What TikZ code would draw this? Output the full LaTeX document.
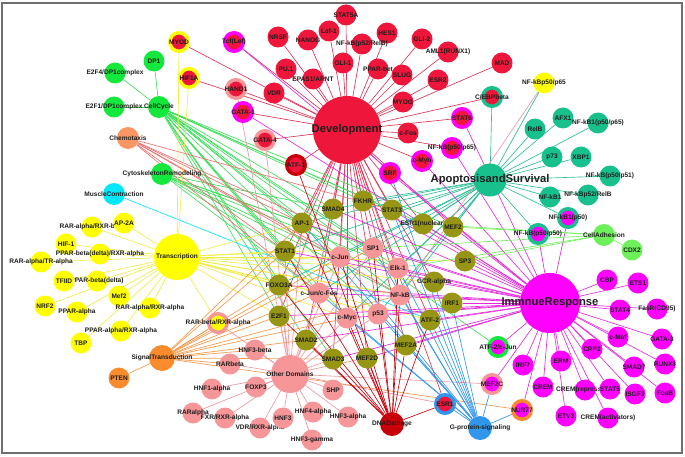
\documentclass[tikz,border=0pt]{standalone}
\usepackage{fontspec}
\setmainfont{Liberation Sans}
\usetikzlibrary{backgrounds}

\definecolor{devred}{RGB}{238,22,58}
\definecolor{devline}{RGB}{222,50,85}
\definecolor{cyclegreen}{RGB}{20,232,60}
\definecolor{cycleline}{RGB}{60,222,90}
\definecolor{tyellow}{RGB}{255,255,0}
\definecolor{tline}{RGB}{240,235,70}
\definecolor{apoteal}{RGB}{24,192,142}
\definecolor{apoline}{RGB}{40,190,150}
\definecolor{immmag}{RGB}{255,0,255}
\definecolor{immline}{RGB}{230,40,220}
\definecolor{hubolive}{RGB}{150,150,20}
\definecolor{otherpink}{RGB}{246,150,152}
\definecolor{otherline}{RGB}{240,150,160}
\definecolor{sigorange}{RGB}{250,140,45}
\definecolor{sigline}{RGB}{245,150,70}
\definecolor{chemocol}{RGB}{250,150,100}
\definecolor{chemoline}{RGB}{235,110,110}
\definecolor{musclecyan}{RGB}{0,232,250}
\definecolor{adhgreen}{RGB}{110,240,90}
\definecolor{dnared}{RGB}{200,0,10}
\definecolor{gblue}{RGB}{50,150,235}
\definecolor{labcol}{RGB}{30,30,30}
\definecolor{framegray}{RGB}{110,110,110}

\begin{document}
\begin{tikzpicture}[x=0.03cm,y=-0.03cm,
    every label/.style={font=\fontsize{5.6}{6}\selectfont\bfseries,text=labcol,inner sep=0pt},
    hublabel/.style={font=\fontsize{9.6}{10}\selectfont\bfseries,text=labcol,inner sep=0pt},
    gene/.style={circle,inner sep=0pt,minimum size=0.63cm,fill=#1},
    ringed/.style 2 args={circle,inner sep=0pt,minimum size=0.555cm,fill=#2,draw=#1,line width=0.105cm},
    hub/.style 2 args={circle,inner sep=0pt,minimum size=#2*0.06cm,fill=#1},
    link/.style={draw=#1,line width=0.55pt}]

    \useasboundingbox (0,0) rectangle (685,456);
    \draw[framegray,line width=1pt] (2,3) rectangle (682,453);

    % Development
    \node[hub={devred}{34},label={[hublabel]center:Development}] (development) at (347,130) {};
    \node[gene=devred,label={center:STAT5A}] (stata) at (346,15) {};
    \node[gene=devred,label={center:NRSF}] (nrsf) at (278,37) {};
    \node[gene=devred,label={center:NANOG}] (nanog) at (308,40) {};
    \node[gene=devred,label={center:Lef-1}] (lef) at (329,31) {};
    \node[gene=devred,label={center:HES1}] (hes) at (387,33) {};
    \node[gene=devred,label={center:NF-kB(p52/RelB)}] (nfkbrelb) at (362,44) {};
    \node[gene=devred,label={center:GLI-2}] (glitwo) at (422,39) {};
    \node[gene=devred,label={center:AML1(RUNX1)}] (aml) at (448,52) {};
    \node[gene=devred,label={center:MAD}] (mad) at (502,63) {};
    \node[gene=devred,label={center:PU.1}] (pu) at (286,69) {};
    \node[gene=devred,label={center:GLI-1}] (glione) at (343,63) {};
    \node[gene=devred,label={center:PPAR-bet}] (ppbet) at (378,69) {};
    \node[gene=devred,label={center:EPAS1/ARNT}] (epas) at (313,79) {};
    \node[gene=devred,label={center:SLUG}] (slug) at (402,75) {};
    \node[gene=devred,label={center:ESR2}] (esrtwo) at (438,80) {};
    \node[gene=devred,label={center:VDR}] (vdr) at (274,93) {};
    \node[gene=devred,label={center:MYOG}] (myog) at (403,102) {};
    \node[gene=devred,label={center:c-Fos}] (cfos) at (408,133) {};
    \node[ringed={tyellow}{devred},label={center:MYOD}] (myod) at (179,42) {};
    \node[ringed={tyellow}{devred},label={center:HIF1A}] (hifa) at (189,78) {};
    \node[ringed={immmag}{devred},label={center:Tcf(Lef)}] (tcf) at (234,42) {};
    \node[ringed={otherpink}{devred},label={center:HAND1}] (hand) at (236,89) {};
    \node[ringed={immmag}{devred},label={center:GATA-1}] (gataone) at (243,112) {};
    \node[ringed={otherpink}{devred},label={center:GATA-4}] (gatafour) at (265,140) {};
    \node[ringed={dnared}{devred},label={center:ATF-1}] (atfone) at (296,165) {};
    \node[ringed={apoteal}{devred},label={center:C/EBPbeta}] (cebp) at (492,97) {};
    \node[ringed={immmag}{devred},label={center:STAT6}] (statsix) at (462,118) {};
    \node[ringed={immmag}{devred},label={center:NF-kB(p50/p65)}] (nfkbsixfive) at (452,148) {};
    \node[ringed={immmag}{devred},label={center:c-Myb}] (cmyb) at (422,161) {};
    \node[ringed={immmag}{devred},label={center:SRF}] (srf) at (390,173) {};

    % CellCycle and other small groups
    \node[gene=cyclegreen,label={center:DP1}] (dpone) at (154,61) {};
    \node[gene=cyclegreen,label={center:E2F4/DP1complex}] (efour) at (115,73) {};
    \node[gene=cyclegreen,label={center:E2F1/DP1complex}] (efone) at (114,107) {};
    \node[hub={cyclegreen}{11},label={center:CellCycle}] (cellcycle) at (159,107) {};
    \node[hub={chemocol}{11},label={center:Chemotaxis}] (chemo) at (128,138) {};
    \node[hub={cyclegreen}{11},label={center:CytoskeletonRemodeling}] (cyto) at (162,174) {};
    \node[hub={musclecyan}{11},label={center:MuscleContraction}] (muscle) at (114,194) {};

    % Transcription
    \node[hub={tyellow}{23},label={center:Transcription}] (transcription) at (177,257) {};
    \node[gene=tyellow,label={center:RAR-alpha/RXR-beta}] (rarrxrb) at (92,227) {};
    \node[gene=tyellow,label={center:AP-2A}] (aptwo) at (124,223) {};
    \node[gene=tyellow,label={center:HIF-1}] (hifone) at (66,244) {};
    \node[gene=tyellow,label={center:PPAR-beta(delta)/RXR-alpha}] (ppbdrxr) at (100,254) {};
    \node[gene=tyellow,label={center:RAR-alpha/TR-alpha}] (rartr) at (41,262) {};
    \node[gene=tyellow,label={center:PPAR-beta(delta)}] (ppbd) at (97,281) {};
    \node[gene=tyellow,label={center:TFIID}] (tfiid) at (64,281) {};
    \node[gene=tyellow,label={center:Mef2}] (meftwo) at (119,296) {};
    \node[gene=tyellow,label={center:NRF2}] (nrf) at (45,306) {};
    \node[gene=tyellow,label={center:PPAR-alpha}] (ppa) at (77,312) {};
    \node[gene=tyellow,label={center:RAR-alpha/RXR-alpha}] (rarrxra) at (150,308) {};
    \node[gene=tyellow,label={center:PPAR-alpha/RXR-alpha}] (pparxr) at (121,331) {};
    \node[gene=tyellow,label={center:TBP}] (tbp) at (81,343) {};
    \node[gene=tyellow,label={center:NF-kBp50/p65}] (nfkbyel) at (544,83) {};

    % SignalTransduction
    \node[hub={sigorange}{13},label={center:SignalTransduction}] (signal) at (162,358) {};
    \node[gene=sigorange,label={center:PTEN}] (pten) at (119,378) {};

    % Other Domains
    \node[hub={otherpink}{19},label={center:Other Domains}] (other) at (290,374) {};
    \node[ringed={otherpink}{tyellow},label={center:RAR-beta/RXR-alpha}] (rarbrxr) at (218,323) {};
    \node[gene=otherpink,label={center:HNF3-beta}] (hnfthreeb) at (255,350) {};
    \node[gene=otherpink,label={center:RARbeta}] (rarbeta) at (230,364) {};
    \node[gene=otherpink,label={center:HNF1-alpha}] (hnfonea) at (212,389) {};
    \node[gene=otherpink,label={center:FOXP3}] (foxp) at (256,387) {};
    \node[gene=otherpink,label={center:RARalpha}] (raralpha) at (193,413) {};
    \node[gene=otherpink,label={center:FXR/RXR-alpha}] (fxr) at (225,418) {};
    \node[gene=otherpink,label={center:VDR/RXR-alpha}] (vdrrxr) at (260,428) {};
    \node[gene=otherpink,label={center:HNF3}] (hnfthree) at (283,418) {};
    \node[gene=otherpink,label={center:HNF4-alpha}] (hnffour) at (313,412) {};
    \node[gene=otherpink,label={center:HNF3-alpha}] (hnfthreea) at (348,417) {};
    \node[gene=otherpink,label={center:HNF3-gamma}] (hnfthreeg) at (312,440) {};
    \node[gene=otherpink,label={center:SHP}] (shp) at (333,390) {};

    % shared genes in the middle
    \node[gene=hubolive,label={center:SMAD4}] (smadfour) at (333,209) {};
    \node[gene=hubolive,label={center:FKHR}] (fkhr) at (363,201) {};
    \node[gene=hubolive,label={center:STAT3}] (statthree) at (392,210) {};
    \node[gene=hubolive,label={center:AP-1}] (apone) at (302,223) {};
    \node[gene=hubolive,label={center:ESR1(nuclear)}] (esrnuc) at (423,224) {};
    \node[gene=hubolive,label={center:MEF2}] (meftwob) at (453,227) {};
    \node[gene=hubolive,label={center:STAT1}] (statone) at (285,251) {};
    \node[gene=hubolive,label={center:SP3}] (spthree) at (465,261) {};
    \node[gene=hubolive,label={center:FOXO3A}] (foxo) at (279,285) {};
    \node[gene=hubolive,label={center:GCR-alpha}] (gcr) at (434,282) {};
    \node[gene=hubolive,label={center:IRF1}] (irf) at (452,303) {};
    \node[gene=hubolive,label={center:E2F1}] (eftwo) at (279,316) {};
    \node[gene=hubolive,label={center:ATF-2}] (atftwo) at (430,320) {};
    \node[gene=hubolive,label={center:SMAD2}] (smadtwo) at (306,340) {};
    \node[gene=hubolive,label={center:MEF2A}] (meftwoa) at (406,345) {};
    \node[gene=hubolive,label={center:SMAD3}] (smadthree) at (333,359) {};
    \node[gene=hubolive,label={center:MEF2D}] (meftwod) at (367,358) {};
    \node[gene=otherpink,label={center:SP1}] (spone) at (373,248) {};
    \node[gene=otherpink,label={center:c-Jun}] (cjun) at (340,257) {};
    \node[gene=otherpink,label={center:Elk-1}] (elk) at (398,268) {};
    \node[gene=otherpink,label={center:c-Jun/c-Fos}] (cjunfos) at (319,293) {};
    \node[gene=otherpink,label={center:NF-kB}] (nfkb) at (400,295) {};
    \node[gene=otherpink,label={center:c-Myc}] (cmyc) at (347,318) {};
    \node[gene=otherpink,label={center:p53}] (pff) at (378,314) {};

    % ApoptosisandSurvival
    \node[hub={apoteal}{16.5},label={[hublabel]center:ApoptosisandSurvival}] (apop) at (490,180) {};
    \node[gene=apoteal,label={center:RelB}] (relb) at (535,129) {};
    \node[gene=apoteal,label={center:AFX1}] (afx) at (563,118) {};
    \node[gene=apoteal,label={center:NF-kB1(p50/p65)}] (nfkbonesix) at (598,123) {};
    \node[gene=apoteal,label={center:p73}] (pst) at (552,157) {};
    \node[gene=apoteal,label={center:XBP1}] (xbp) at (581,157) {};
    \node[gene=apoteal,label={center:NF-kB(p50/p51)}] (nfkbfo) at (610,176) {};
    \node[gene=apoteal,label={center:NF-kB1}] (nfkbonet) at (550,197) {};
    \node[gene=apoteal,label={center:NF-kBp52/RelB}] (nfkbrel) at (588,195) {};
    \node[ringed={apoteal}{immmag},label={center:NF-kB1(p50)}] (nfkbone) at (568,218) {};
    \node[ringed={apoteal}{immmag},label={center:NF-kB(p50/p50)}] (nfkbfifty) at (538,234) {};
    \node[hub={adhgreen}{11},label={center:CellAdhesion}] (adhesion) at (604,235) {};
    \node[gene=adhgreen,label={center:CDX2}] (cdx) at (632,250) {};

    % ImmnueResponse
    \node[hub={immmag}{30},label={[hublabel]center:ImmnueResponse}] (immune) at (550,303) {};
    \node[gene=immmag,label={center:CBP}] (cbp) at (607,280) {};
    \node[gene=immmag,label={center:ETS1}] (etsone) at (638,283) {};
    \node[gene=immmag,label={center:STAT4}] (statfour) at (620,310) {};
    \node[gene=immmag,label={center:FasR(CD95)}] (fasr) at (657,309) {};
    \node[gene=immmag,label={center:c-Maf}] (cmaf) at (618,337) {};
    \node[gene=immmag,label={center:GATA-3}] (gatathree) at (662,339) {};
    \node[gene=immmag,label={center:CRP2}] (crp) at (592,349) {};
    \node[gene=immmag,label={center:SMAD7}] (smadseven) at (634,367) {};
    \node[gene=immmag,label={center:RUNX3}] (runx) at (665,364) {};
    \node[gene=immmag,label={center:IRF7}] (irfseven) at (523,365) {};
    \node[gene=immmag,label={center:ERM}] (erm) at (561,361) {};
    \node[gene=immmag,label={center:CREM}] (crem) at (543,387) {};
    \node[gene=immmag,label={center:CREM(repressors)}] (cremrep) at (585,390) {};
    \node[gene=immmag,label={center:STAT5}] (statfive) at (610,389) {};
    \node[gene=immmag,label={center:ISGF3}] (isgf) at (635,394) {};
    \node[gene=immmag,label={center:FosB}] (fosb) at (665,393) {};
    \node[gene=immmag,label={center:ETV3}] (etv) at (566,416) {};
    \node[gene=immmag,label={center:CREM(activators)}] (cremact) at (608,418) {};
    \node[ringed={cyclegreen}{immmag},label={center:ATF-2/c-Jun}] (atfjun) at (498,347) {};
    \node[ringed={otherpink}{immmag},label={center:MEF2C}] (meftwoc) at (492,384) {};
    \node[ringed={sigorange}{immmag},label={center:NUR77}] (nur) at (522,410) {};

    % DNADamage and G-protein-signaling
    \node[hub={dnared}{12},label={center:DNADamage}] (dna) at (392,424) {};
    \node[ringed={gblue}{devred},label={center:ESR1}] (esrone) at (445,404) {};
    \node[hub={gblue}{12},label={center:G-protein-signaling}] (gprot) at (480,428) {};

    % links
    \begin{scope}[on background layer]
      \foreach \t in {stata,nrsf,nanog,lef,hes,nfkbrelb,glitwo,pu,glione,ppbet,epas,slug,aml,esrtwo,mad,vdr,myog,cfos,myod,hifa,tcf,hand,gataone,gatafour,atfone,cebp,statsix,nfkbsixfive,cmyb,srf,esrone,smadfour,fkhr,statthree,apone,statone,spone,cjun,elk,cjunfos,nfkb,cmyc,pff,eftwo,foxo,smadtwo,smadthree,meftwod,meftwoa,atftwo,esrnuc,meftwob,gcr}
        \draw[link=devline] (development) -- (\t);
      \foreach \t in {dpone,efour,efone,smadfour,apone,statone,cjun,spone,elk,nfkb,cmyc,pff,eftwo,smadthree,smadtwo,atfjun,esrnuc,meftwob,statthree,foxo,cjunfos,fkhr}
        \draw[link=cycleline] (cellcycle) -- (\t);
      \foreach \t in {apone,statone,cjun,spone,elk,smadfour,nfkb,cjunfos}
        \draw[link=cycleline] (cyto) -- (\t);
      \foreach \t in {apone,cjun,spone,nfkb,statthree,cjunfos,statone}
        \draw[link=chemoline] (chemo) -- (\t);
      \draw[link=musclecyan] (muscle) -- (atftwo);
      \foreach \t in {aptwo,rarrxrb,hifone,ppbdrxr,rartr,tfiid,ppbd,meftwo,nrf,ppa,rarrxra,pparxr,tbp,rarbrxr,myod,hifa,statone,cjun,spone,elk,nfkb,cjunfos,cmyc,pff,foxo,eftwo,irf,atftwo,spthree,gcr,apone}
        \draw[link=tline] (transcription) -- (\t);
      \foreach \t in {cebp,nfkbyel,relb,afx,nfkbonesix,pst,xbp,nfkbfo,nfkbonet,nfkbrel,nfkbone,nfkbfifty,statthree,esrnuc,meftwob,spone,elk,cjun,fkhr,smadfour,apone,statone,nfkb,pff,cmyc,foxo,cjunfos}
        \draw[link=apoline] (apop) -- (\t);
      \foreach \t in {cbp,etsone,statfour,fasr,cmaf,gatathree,crp,smadseven,runx,irfseven,erm,statfive,isgf,fosb,crem,cremrep,etv,cremact,atfjun,meftwoc,nur,statsix,nfkbsixfive,cmyb,srf,gataone,tcf,nfkbone,nfkbfifty,spthree,meftwob,esrnuc,gcr,irf,atftwo,meftwoa,nfkb,elk,pff,cmyc,spone,cjun,statone,apone,statthree,smadthree,meftwod,cjunfos,eftwo,smadtwo,foxo,fkhr,smadfour}
        \draw[link=immline] (immune) -- (\t);
      \foreach \t in {hnfthreeb,rarbeta,hnfonea,foxp,raralpha,fxr,vdrrxr,hnfthree,hnffour,hnfthreea,hnfthreeg,shp,rarbrxr,eftwo,smadtwo,smadthree,cjunfos,cjun,cmyc,foxo,statone,meftwod,pff,spone,esrone,meftwoc,hand,gatafour,apone}
        \draw[link=otherline] (other) -- (\t);
      \draw[link=otherline] (nfkbyel) -- (nfkb);
      \foreach \t in {pten,rarbrxr,rarbeta,nur,statone,foxo,eftwo,apone,cjunfos,smadtwo,smadthree,cjun,cmyc,spone,nfkb,hnfthreeb}
        \draw[link=sigline] (signal) -- (\t);
      \foreach \t in {cdx,meftwob,esrnuc,spthree,elk,spone}
        \draw[link=adhgreen] (adhesion) -- (\t);
      \foreach \t in {meftwoc,nur,esrone,atftwo,meftwoa,pff,cmyc,nfkb,elk,spone,cjun,statthree,srf,cjunfos,apone,gcr,irf}
        \draw[link=gblue] (gprot) -- (\t);
      \foreach \t in {esrone,atfone,pff,cmyc,nfkb,elk,spone,cjun,atftwo,meftwoa,meftwod,smadthree,smadtwo,eftwo,statone,apone,foxo}
        \draw[link=dnared] (dna) -- (\t);
    \end{scope}
\end{tikzpicture}
\end{document}
